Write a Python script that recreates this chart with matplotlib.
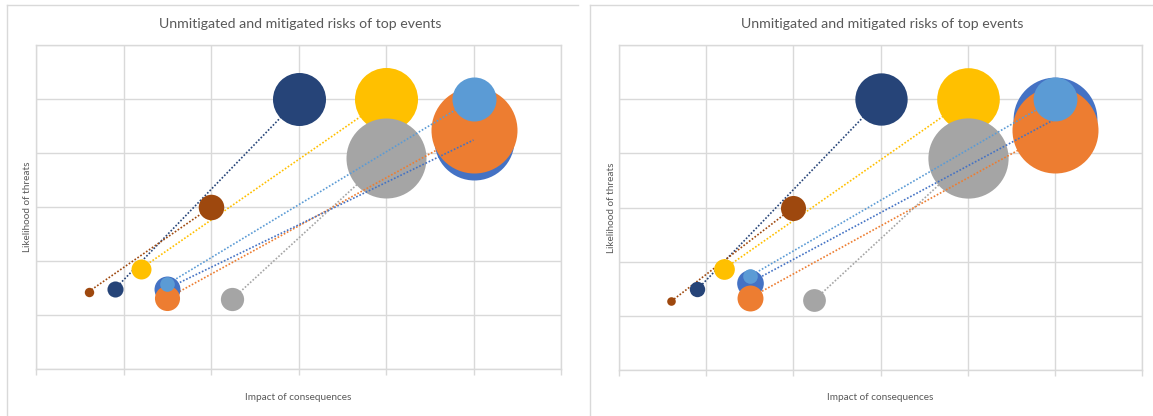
import matplotlib
matplotlib.use("Agg")
import matplotlib.pyplot as plt
from matplotlib.lines import Line2D
import numpy as np

plt.rcParams['font.family'] = ['Lato', 'DejaVu Sans']

W, H = 1153, 416

# event colours (Excel office palette)
colors = ['#4472C4', '#ED7D31', '#A5A5A5', '#FFC000', '#5B9BD5', '#264478', '#9E480E']

# unmitigated risk per event: impact, likelihood, bubble size
unmit_x = [5, 5, 4, 4, 5, 3, 2]
unmit_y_before = [4.24, 4.43, 3.91, 5, 5, 5, 3]
unmit_size_before = [86.5, 100, 86.5, 53.7, 26.2, 38, 8.8]
unmit_y_after = [4.63, 4.43, 3.91, 5, 5, 5, 3]
unmit_size_after = [95, 100, 87, 53, 26, 37, 8.5]

# mitigated risk per event
mit_x = [1.5, 1.5, 2.24, 1.2, 1.5, 0.9, 0.6]
mit_y_before = [1.49, 1.31, 1.29, 1.86, 1.57, 1.48, 1.43]
mit_size_before = [9.1, 8.5, 7.3, 5.4, 2.9, 3.5, 1.2]
mit_y_after = [1.61, 1.33, 1.29, 1.86, 1.73, 1.49, 1.27]
mit_size_after = [9.6, 9.1, 7.0, 5.8, 2.9, 3.2, 1.0]

title = 'Unmitigated and mitigated risks of top events'
xlabel = 'Impact of consequences'
ylabel = 'Likelihood of threats'

# stacking of the big bubbles and the connecting lines
big_z = [2.2, 2.4, 2.0, 1.0, 3.0, 3.0, 3.0]
line_z = [2.5, 2.3, 1.9, 0.9, 2.6, 2.6, 2.6]
small_z = [5.0, 5.2, 5.0, 5.0, 5.4, 5.0, 5.0]

grid_c = '#D9D9D9'
text_c = '#595959'
max_d = 86  # px diameter of the largest bubble


def bubble_s(size):
    d = max_d * np.sqrt(np.asarray(size) / 100.0)
    return (d * 72 / 100.0) ** 2


def px_axes(fig, x0, y0, x1, y1):
    return fig.add_axes([x0 / W, 1 - y1 / H, (x1 - x0) / W, (y1 - y0) / H])


def draw_chart(fig, left, right, plot, uy, usz, my, msz):
    # chart area frame (top and left edges)
    fig.add_artist(Line2D([left / W, right / W], [1 - 5 / H, 1 - 5 / H], color=grid_c, lw=1.0))
    fig.add_artist(Line2D([left / W, left / W], [0, 1 - 5 / H], color=grid_c, lw=1.0))

    ax = px_axes(fig, *plot)
    ax.set_xlim(0, 6)
    ax.set_ylim(0, 6)
    ax.set_xticks(range(7))
    ax.set_yticks(range(7))
    ax.set_xticklabels([])
    ax.set_yticklabels([])
    ax.grid(True, color=grid_c, lw=1.0, zorder=0)
    ax.set_axisbelow(True)
    for sp in ax.spines.values():
        sp.set_color(grid_c)
        sp.set_linewidth(1.0)
    ax.tick_params(axis='x', direction='out', length=4, color=grid_c, width=1.0)
    ax.tick_params(axis='y', length=0)

    for i, c in enumerate(colors):
        ax.plot([mit_x[i], unmit_x[i]], [my[i], uy[i]], color=c, lw=1.2,
                linestyle=(0, (1, 1.1)), zorder=line_z[i])
        ax.scatter([unmit_x[i]], [uy[i]], s=bubble_s(usz[i]), color=c, lw=0,
                   zorder=big_z[i], clip_on=False)
        ax.scatter([mit_x[i]], [my[i]], s=bubble_s(msz[i]), color=c, lw=0,
                   zorder=small_z[i], clip_on=False)

    cx = (plot[0] + plot[2]) / 2
    cy = (plot[1] + plot[3]) / 2
    fig.text((cx + 2) / W, 1 - 24 / H, title, ha='center', va='center', fontsize=10.2, color=text_c)
    fig.text(cx / W, 1 - 398 / H, xlabel, ha='center', va='center', fontsize=7.2, color=text_c)
    fig.text((left + 21) / W, 1 - cy / H, ylabel, ha='center', va='center', fontsize=7.2,
             color=text_c, rotation=90)
    return ax


fig = plt.figure(figsize=(W / 100, H / 100), dpi=100)
fig.patch.set_facecolor('white')

draw_chart(fig, 7, 578, (36, 45, 561, 369), unmit_y_before, unmit_size_before,
           mit_y_before, mit_size_before)
draw_chart(fig, 590, W, (619, 45, 1142, 370), unmit_y_after, unmit_size_after,
           mit_y_after, mit_size_after)

fig.savefig('out.png', dpi=100)
